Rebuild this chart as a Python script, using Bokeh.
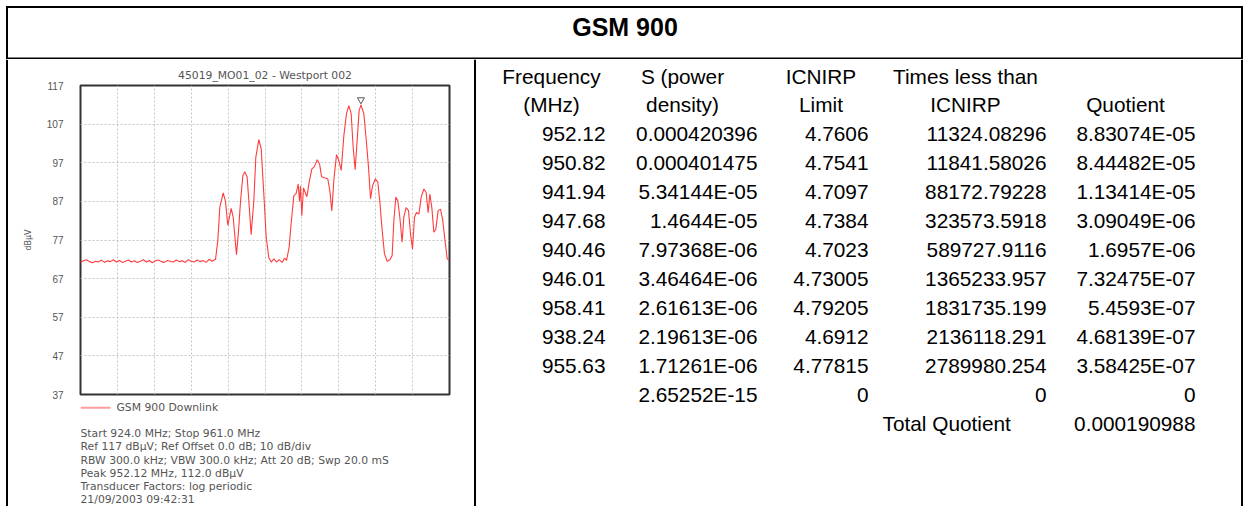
from bokeh.plotting import figure
from bokeh.layouts import column, row
from bokeh.models import Range1d, FixedTicker, ColumnDataSource
from bokeh.core.properties import value
from bokeh.embed import file_html
from bokeh.resources import INLINE

# ---------------- data ----------------
PANEL_TITLE = "GSM 900"
TRACE_TITLE = "45019_MO01_02 - Westport 002"
TRACE_NAME = "GSM 900 Downlink"
Y_UNIT = "dBµV"
Y_TICKS = [37, 47, 57, 67, 77, 87, 97, 107, 117]
X_DIVISIONS = [927.7, 931.4, 935.1, 938.8, 942.5, 946.2, 949.9, 953.6, 957.3]
F_START, F_STOP = 924.0, 961.0
REF_LOW, REF_HIGH = 37, 117

FREQ_MHZ = [
    924.0, 924.3, 924.6, 924.9, 925.2, 925.5, 925.8, 926.1, 926.4, 926.7,
    927.0, 927.3, 927.6, 927.9, 928.2, 928.5, 928.8, 929.1, 929.4, 929.7,
    930.0, 930.3, 930.6, 930.9, 931.2, 931.5, 931.8, 932.1, 932.4, 932.7,
    933.0, 933.3, 933.6, 933.9, 934.2, 934.5, 934.8, 935.1, 935.4, 935.7,
    936.0, 936.3, 936.6, 936.9, 937.2, 937.54, 937.77, 937.97, 938.31, 938.54,
    938.77, 939.11, 939.31, 939.64, 939.85, 940.04, 940.28, 940.48, 940.71, 940.88,
    941.11, 941.38, 941.58, 941.88, 942.12, 942.38, 942.62, 942.88, 943.12, 943.39,
    943.65, 943.92, 944.22, 944.46, 944.66, 944.92, 945.12, 945.39, 945.62, 945.83,
    945.96, 946.06, 946.19, 946.36, 946.53, 946.70, 946.93, 947.20, 947.46, 947.73,
    947.97, 948.17, 948.47, 948.80, 949.00, 949.20, 949.40, 949.67, 949.90, 950.14,
    950.41, 950.67, 950.91, 951.14, 951.34, 951.54, 951.74, 951.94, 952.12, 952.41,
    952.64, 952.88, 953.08, 953.28, 953.55, 953.81, 954.01, 954.25, 954.48, 954.75,
    955.02, 955.25, 955.42, 955.62, 955.82, 956.02, 956.25, 956.42, 956.65, 956.89,
    957.09, 957.29, 957.49, 957.69, 957.93, 958.16, 958.43, 958.66, 958.86, 959.03,
    959.23, 959.43, 959.63, 959.86, 960.10, 960.33, 960.57, 960.77, 961.0,
]
LEVEL_DBUV = [
    71.2, 71.6, 71.9, 71.4, 71.1, 71.5, 71.3, 71.8, 71.2, 71.6,
    71.4, 71.9, 71.3, 71.7, 71.2, 71.5, 71.8, 71.3, 71.6, 71.2,
    71.5, 71.9, 71.3, 71.7, 71.1, 71.6, 71.8, 71.4, 71.2, 71.7,
    71.5, 71.3, 71.8, 71.4, 71.6, 71.2, 71.9, 71.5, 71.3, 71.8,
    71.4, 71.7, 71.2, 72.0, 71.5, 72.0, 76.9, 85.5, 89.2, 87.0,
    80.8, 85.2, 82.9, 73.2, 79.5, 86.8, 93.7, 94.7, 93.3, 87.1,
    78.4, 87.1, 98.4, 103.0, 100.6, 89.0, 77.7, 72.5, 71.3, 72.1,
    71.3, 71.9, 71.2, 72.3, 71.7, 75.1, 81.2, 88.5, 89.0, 91.5,
    87.0, 91.0, 83.3, 90.5, 89.3, 88.2, 92.0, 95.4, 96.0, 97.8,
    96.7, 93.4, 93.1, 92.8, 89.8, 84.5, 92.4, 99.1, 97.6, 95.0,
    104.1, 109.7, 111.8, 109.7, 101.0, 95.2, 102.8, 110.5, 112.0, 109.7,
    103.2, 95.8, 87.7, 91.0, 92.8, 92.0, 87.1, 79.5, 73.4, 71.5,
    71.9, 73.0, 82.0, 88.1, 87.1, 82.9, 76.4, 82.9, 85.4, 84.6,
    78.6, 74.7, 82.9, 84.1, 83.7, 88.1, 90.2, 89.3, 84.1, 88.9,
    85.4, 79.0, 79.8, 84.6, 85.0, 82.0, 76.4, 72.1, 71.9,
]
PEAK_FREQ = 952.12
PEAK_LEVEL = 112.0

INFO_LINES = [
    "Start 924.0 MHz; Stop 961.0 MHz",
    "Ref 117 dBµV; Ref Offset 0.0 dB; 10 dB/div",
    "RBW 300.0 kHz; VBW 300.0 kHz; Att 20 dB; Swp 20.0 mS",
    "Peak 952.12 MHz, 112.0 dBµV",
    "Transducer Factors: log periodic",
    "21/09/2003 09:42:31",
]

HEADER_1 = ["Frequency", "S (power", "ICNIRP", "Times less than", ""]
HEADER_2 = ["(MHz)", "density)", "Limit", "ICNIRP", "Quotient"]
COL_FREQ = ["952.12", "950.82", "941.94", "947.68", "940.46", "946.01",
            "958.41", "938.24", "955.63", ""]
COL_S = ["0.000420396", "0.000401475", "5.34144E-05", "1.4644E-05", "7.97368E-06",
         "3.46464E-06", "2.61613E-06", "2.19613E-06", "1.71261E-06", "2.65252E-15"]
COL_LIMIT = ["4.7606", "4.7541", "4.7097", "4.7384", "4.7023", "4.73005",
             "4.79205", "4.6912", "4.77815", "0"]
COL_TIMES = ["11324.08296", "11841.58026", "88172.79228", "323573.5918", "589727.9116",
             "1365233.957", "1831735.199", "2136118.291", "2789980.254", "0"]
COL_QUOT = ["8.83074E-05", "8.44482E-05", "1.13414E-05", "3.09049E-06", "1.6957E-06",
            "7.32475E-07", "5.4593E-07", "4.68139E-07", "3.58425E-07", "0"]
TOTAL_LABEL = "Total Quotient"
TOTAL_VALUE = "0.000190988"

# ---------------- styling / layout ----------------
TFONT = value("Liberation Sans")
SFONT = value("DejaVu Sans")
TSIZE = "20.8px"
SMALL = "10.8px"
GRAYTXT = "#555555"
LEFT_W = 473          # page x where the table cell starts
FR_L, FR_R, FR_T, FR_B = 80, 449, 85, 394   # spectrum frame, page pixels
SPEC_BOTTOM = 400


def blank(width, height, x0, x1, y0, y1):
    p = figure(width=width, height=height, x_range=Range1d(x0, x1), y_range=Range1d(y0, y1),
               min_border=0, toolbar_location=None, output_backend="svg",
               x_axis_location=None, y_axis_location=None, outline_line_color=None)
    p.grid.visible = False
    p.background_fill_color = "white"
    p.border_fill_color = "white"
    return p


# ---- title row (page y 0..59) ----
title_fig = blank(1250, 59, 0, 1250, 59, 0)
title_fig.segment(x0=[5.5, 6.5, 1241.5, 5.5], y0=[6.5, 5.5, 5.5, 58], x1=[1242.5, 6.5, 1241.5, 1242.5],
                  y1=[6.5, 59, 59, 58], line_color="black", line_width=2)
title_fig.text(x=[624.5], y=[26], text=[PANEL_TITLE], text_font=TFONT, text_font_style="bold",
               text_font_size="25px", text_align="center", text_baseline="middle", text_color="black")

# ---- left border strip (page x 0..8) ----
strip = blank(8, 447, 0, 8, 0, 1)
strip.quad(left=[5.5], right=[7.5], bottom=[0], top=[1], fill_color="black", line_color=None)

# ---- spectrum plot (page x 8..473, y 59..400) ----
spec = figure(width=LEFT_W - 8, height=SPEC_BOTTOM - 59, x_range=Range1d(F_START, F_STOP),
              y_range=Range1d(REF_LOW, REF_HIGH), toolbar_location=None, output_backend="svg",
              x_axis_location=None, min_border_left=FR_L - 8, min_border_right=LEFT_W - FR_R,
              min_border_top=FR_T - 59, min_border_bottom=SPEC_BOTTOM - FR_B)
spec.background_fill_color = "white"
spec.border_fill_color = "white"
spec.outline_line_color = "#333333"
spec.outline_line_width = 2
spec.title.text = TRACE_TITLE
spec.title.align = "center"
spec.title.text_font = "DejaVu Sans"
spec.title.text_font_size = SMALL
spec.title.text_font_style = "normal"
spec.title.text_color = GRAYTXT
spec.title.standoff = 8

ya = spec.yaxis[0]
ya.ticker = FixedTicker(ticks=Y_TICKS)
ya.axis_line_color = None
ya.major_tick_line_color = None
ya.minor_tick_line_color = None
ya.major_tick_out = 0
ya.major_tick_in = 0
ya.major_label_standoff = 17
ya.major_label_text_font = "Liberation Sans"
ya.major_label_text_font_size = "10px"
ya.major_label_text_color = GRAYTXT
ya.axis_label = Y_UNIT
ya.axis_label_text_font = "DejaVu Sans"
ya.axis_label_text_font_size = "8px"
ya.axis_label_text_font_style = "normal"
ya.axis_label_text_color = GRAYTXT
ya.axis_label_standoff = 11

spec.ygrid.ticker = FixedTicker(ticks=Y_TICKS)
spec.xgrid.ticker = FixedTicker(ticks=X_DIVISIONS)
for g in (spec.xgrid, spec.ygrid):
    g.grid_line_color = "#c4c4c4"
    g.grid_line_dash = "2 2"
    g.grid_line_width = 1

src = ColumnDataSource(dict(f=FREQ_MHZ, lvl=LEVEL_DBUV))
spec.line("f", "lvl", source=src, line_color="#ff3c3c", line_width=1.1)
spec.scatter(x=[PEAK_FREQ], y=[PEAK_LEVEL + 1.3], marker="inverted_triangle", size=7,
             fill_color="white", line_color="#555555", line_width=1)

# ---- legend + info text under the plot (page y 400..506) ----
# this figure shares the column with the spectrum, so its frame is aligned to x 80..449
info = blank(LEFT_W - 8, 506 - SPEC_BOTTOM, FR_L, FR_R, 506, SPEC_BOTTOM)
info.line(x=[80, 110], y=[407.3, 407.3], line_color="#ff9c9c", line_width=2)
info.text(x=[116], y=[407.3], text=[TRACE_NAME], text_font=SFONT, text_font_size=SMALL,
          text_color=GRAYTXT, text_align="left", text_baseline="middle")
info_y = [433.3 + 13.1 * i for i in range(len(INFO_LINES))]
info.text(x=[80] * len(INFO_LINES), y=info_y, text=INFO_LINES, text_font=SFONT,
          text_font_size=SMALL, text_color=GRAYTXT, text_align="left", text_baseline="middle")

left_cell = column(spec, info, spacing=0)

# ---- table (page x 473..1250, y 59..506) ----
table = blank(1250 - LEFT_W, 447, LEFT_W, 1250, 506, 59)
table.segment(x0=[474.5, 1241.5], y0=[59, 59], x1=[474.5, 1241.5], y1=[506, 506],
              line_color="black", line_width=2)

HEAD_X = [551, 682, 820.5, 965, 1125]
NUM_X = [605, 757, 868, 1046, 1195]
ROW_Y0, ROW_STEP = 133, 29
HEAD_Y1, HEAD_Y2 = 75.5, 104

hx, hy, ht = [], [], []
for x, t1, t2 in zip(HEAD_X, HEADER_1, HEADER_2):
    if t1:
        hx.append(x); hy.append(HEAD_Y1); ht.append(t1)
    hx.append(x); hy.append(HEAD_Y2); ht.append(t2)
table.text(x=hx, y=hy, text=ht, text_font=TFONT, text_font_size=TSIZE, text_color="black",
           text_align="center", text_baseline="middle")

cx, cy, ct = [], [], []
for x, col in zip(NUM_X, [COL_FREQ, COL_S, COL_LIMIT, COL_TIMES, COL_QUOT]):
    for i, t in enumerate(col):
        if t:
            cx.append(x); cy.append(ROW_Y0 + ROW_STEP * i); ct.append(t)
cx.append(NUM_X[4]); cy.append(ROW_Y0 + ROW_STEP * 10); ct.append(TOTAL_VALUE)
table.text(x=cx, y=cy, text=ct, text_font=TFONT, text_font_size=TSIZE, text_color="black",
           text_align="right", text_baseline="middle")
table.text(x=[882], y=[ROW_Y0 + ROW_STEP * 10], text=[TOTAL_LABEL], text_font=TFONT,
           text_font_size=TSIZE, text_color="black", text_align="left", text_baseline="middle")

layout = column(title_fig, row(strip, left_cell, table, spacing=0), spacing=0)

open("out.html", "w").write(file_html(layout, INLINE))
